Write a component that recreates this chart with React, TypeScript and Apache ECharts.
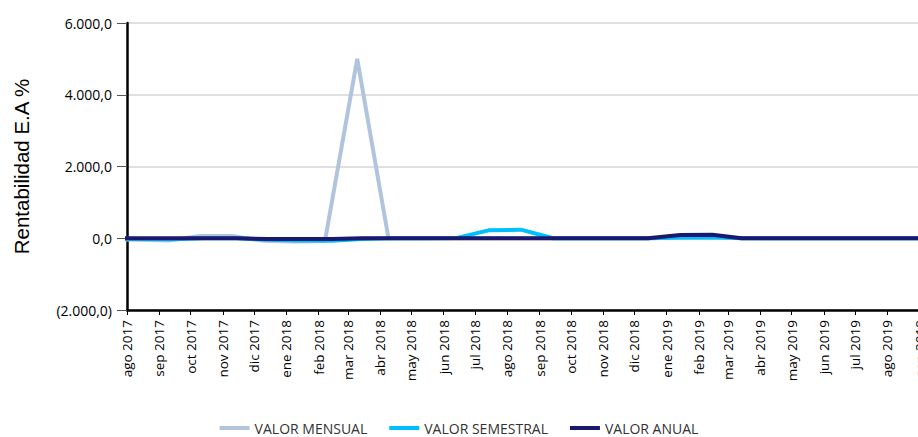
import React, { useEffect, useRef } from "react";
import * as echarts from "echarts";

// Month abbreviations used on the x axis (Spanish)
const monthNames = ["ene", "feb", "mar", "abr", "may", "jun", "jul", "ago", "sep", "oct", "nov", "dic"];

// Axis bounds
const axisStart = "2017-08-01";
const axisEnd = "2019-10-01";
const yMin = -2000;
const yMax = 6000;
const yInterval = 2000;

const seriesNames = ["VALOR MENSUAL", "VALOR SEMESTRAL", "VALOR ANUAL"];
const seriesColors = ["#b0c4de", "#00bfff", "#191970"];

// VALOR MENSUAL
const mensualDates = [
  "2017-07-10", "2017-08-10", "2017-09-10", "2017-10-10", "2017-11-10", "2017-12-10",
  "2018-01-10", "2018-02-07", "2018-03-10", "2018-04-09", "2018-05-10", "2018-06-10",
  "2018-07-10", "2018-08-10", "2018-09-10", "2018-10-10", "2018-11-10", "2018-12-10",
  "2019-01-10", "2019-02-10", "2019-03-10", "2019-04-10", "2019-05-10", "2019-06-10",
  "2019-07-10", "2019-08-10", "2019-09-10",
];
const mensualValues = [
  -30, -40, -60, 60, 60, -70,
  -90, -80, 5000, 0, 0, 5,
  0, 0, 0, 0, 0, 0,
  10, 20, 10, 0, 0, 0,
  0, 0, 0,
];

// VALOR SEMESTRAL
const semestralDates = [
  "2017-07-14", "2017-08-14", "2017-09-14", "2017-10-14", "2017-11-14", "2017-12-14",
  "2018-01-14", "2018-02-14", "2018-03-14", "2018-04-14", "2018-05-14", "2018-06-14",
  "2018-07-14", "2018-08-14", "2018-09-14", "2018-10-14", "2018-11-14", "2018-12-14",
  "2019-01-14", "2019-02-14", "2019-03-14", "2019-04-14", "2019-05-14", "2019-06-14",
  "2019-07-14", "2019-08-14", "2019-09-14",
];
const semestralValues = [
  -10, -20, -30, 0, 0, -40,
  -60, -70, -20, 0, 0, 10,
  220, 240, 0, 0, 0, 0,
  20, 30, 0, 0, 0, 0,
  0, 0, 0,
];

// VALOR ANUAL
const anualDates = semestralDates;
const anualValues = [
  0, 0, 0, 0, 0, -20,
  -20, -20, 0, 0, 0, 0,
  0, 0, 0, 0, 0, 0,
  90, 100, 0, 0, 0, 0,
  0, 0, 0,
];

const formatY = (v: number) => {
  const abs = Math.abs(v);
  const [intPart, dec] = abs.toFixed(1).split(".");
  const withDots = intPart.replace(/\B(?=(\d{3})+(?!\d))/g, ".");
  const s = withDots + "," + dec;
  return v < 0 ? "(" + s + ")" : s;
};

const formatX = (value: number) => {
  const d = new Date(value);
  return monthNames[d.getMonth()] + " " + d.getFullYear();
};

const pair = (dates: string[], values: number[]) => dates.map((d, i) => [d, values[i]]);

export default function App() {
  const ref = useRef<HTMLDivElement>(null);

  useEffect(() => {
    if (!ref.current) return;
    const chart = echarts.init(ref.current, undefined, { renderer: "svg" });
    const font = "'Open Sans', 'Noto Sans', sans-serif";
    const allData = [
      pair(mensualDates, mensualValues),
      pair(semestralDates, semestralValues),
      pair(anualDates, anualValues),
    ];
    chart.setOption({
      animation: false,
      backgroundColor: "#ffffff",
      grid: {
        left: 127,
        top: 23,
        bottom: 127,
        right: -33,
        containLabel: false,
        outerBoundsMode: "none",
      },
      legend: {
        data: seriesNames,
        left: "center",
        top: 421,
        icon: "rect",
        itemWidth: 30,
        itemHeight: 4,
        itemGap: 22,
        padding: 0,
        textStyle: { fontFamily: font, fontSize: 14, color: "#333" },
      },
      xAxis: {
        type: "time",
        min: axisStart,
        max: axisEnd,
        minInterval: 28 * 24 * 3600 * 1000,
        maxInterval: 31 * 24 * 3600 * 1000,
        axisLine: { show: true, onZero: false, lineStyle: { color: "#000", width: 2.5 } },
        axisTick: { show: true, length: 5, lineStyle: { color: "#000", width: 1 } },
        axisLabel: {
          rotate: 90,
          margin: 10,
          fontFamily: font,
          fontSize: 13.5,
          color: "#000",
          formatter: formatX,
          showMinLabel: true,
          showMaxLabel: true,
        },
        splitLine: { show: false },
      },
      yAxis: {
        type: "value",
        min: yMin,
        max: yMax,
        interval: yInterval,
        name: "Rentabilidad E.A %",
        nameLocation: "middle",
        nameGap: 95,
        nameTextStyle: { fontFamily: "'Liberation Sans', Arial, sans-serif", fontSize: 20.5, color: "#000" },
        axisLine: { show: true, lineStyle: { color: "#000", width: 2.5 } },
        axisTick: { show: true, length: 10, lineStyle: { color: "#555", width: 1 } },
        axisLabel: {
          margin: 15,
          fontFamily: font,
          fontSize: 14,
          color: "#000",
          formatter: formatY,
        },
        splitLine: { show: true, lineStyle: { color: "#e0e0e0", width: 2 } },
      },
      series: seriesNames.map((name, i) => ({
        name,
        type: "line",
        data: allData[i],
        showSymbol: false,
        symbol: "none",
        color: seriesColors[i],
        lineStyle: { width: 4, color: seriesColors[i] },
        z: 2 + i,
      })),
    });
    return () => chart.dispose();
  }, []);

  return (
    <div
      ref={ref}
      style={{ position: "absolute", left: 0, top: 0, width: 918, height: 437, background: "#fff" }}
    />
  );
}
